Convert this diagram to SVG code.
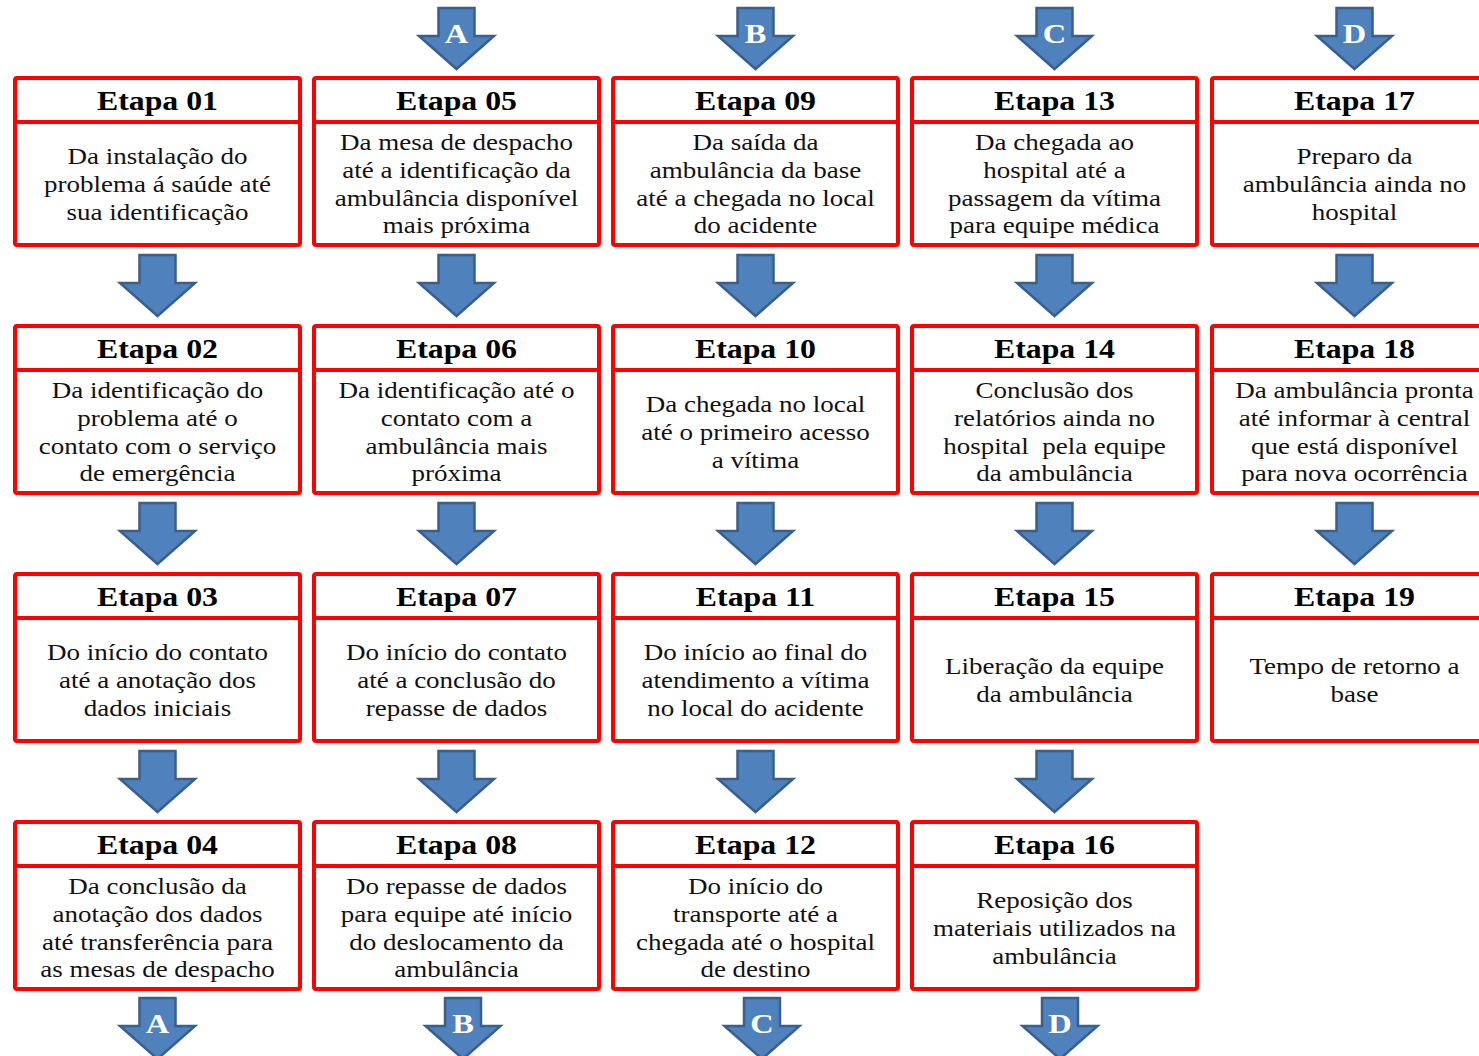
<svg xmlns="http://www.w3.org/2000/svg" width="1479" height="1056" viewBox="0 0 1479 1056">
<style>
.box{fill:#fff;stroke:#ff0000;stroke-width:4}
.hl{stroke:#ff0000;stroke-width:4}
.t{font-family:"Liberation Serif",serif;font-weight:bold;font-size:26.5px;text-anchor:middle;fill:#000}
.b{font-family:"Liberation Serif",serif;font-size:22.5px;text-anchor:middle;fill:#111}
.arr{fill:#4f81bd;stroke:#3a5f8b;stroke-width:2.5;stroke-linejoin:miter}
.lt{font-family:"Liberation Serif",serif;font-weight:bold;font-size:27px;text-anchor:middle;fill:#fff}
</style>
<defs>
<path id="ar" class="arr" d="M-18,0 H18 V28 H37.5 L0,61 L-37.5,28 H-18 Z"/>
<g id="frame">
<rect class="box" x="-142.5" y="1" width="285" height="167" rx="2"/>
<line class="hl" x1="-142.5" y1="45" x2="142.5" y2="45"/>
</g>
</defs>
<g id="connectors">
<use href="#ar" x="456.5" y="8"/><g transform="translate(456.5,0) scale(1.2,1)"><text class="lt" x="0" y="43">A</text></g>
<use href="#ar" x="755.5" y="8"/><g transform="translate(755.5,0) scale(1.2,1)"><text class="lt" x="0" y="43">B</text></g>
<use href="#ar" x="1054.5" y="8"/><g transform="translate(1054.5,0) scale(1.2,1)"><text class="lt" x="0" y="43">C</text></g>
<use href="#ar" x="1354.5" y="8"/><g transform="translate(1354.5,0) scale(1.2,1)"><text class="lt" x="0" y="43">D</text></g>
<use href="#ar" x="157.5" y="255"/><use href="#ar" x="456.5" y="255"/><use href="#ar" x="755.5" y="255"/><use href="#ar" x="1054.5" y="255"/><use href="#ar" x="1354.5" y="255"/>
<use href="#ar" x="157.5" y="503"/><use href="#ar" x="456.5" y="503"/><use href="#ar" x="755.5" y="503"/><use href="#ar" x="1054.5" y="503"/><use href="#ar" x="1354.5" y="503"/>
<use href="#ar" x="157.5" y="751"/><use href="#ar" x="456.5" y="751"/><use href="#ar" x="755.5" y="751"/><use href="#ar" x="1054.5" y="751"/>
<use href="#ar" x="157.5" y="998"/><g transform="translate(157.5,0) scale(1.2,1)"><text class="lt" x="0" y="1033">A</text></g>
<use href="#ar" x="463" y="998"/><g transform="translate(463,0) scale(1.2,1)"><text class="lt" x="0" y="1033">B</text></g>
<use href="#ar" x="762" y="998"/><g transform="translate(762,0) scale(1.2,1)"><text class="lt" x="0" y="1033">C</text></g>
<use href="#ar" x="1060" y="998"/><g transform="translate(1060,0) scale(1.2,1)"><text class="lt" x="0" y="1033">D</text></g>
</g>

<g id="etapa01" transform="translate(157.5,77)"><use href="#frame"/><g transform="scale(1.2,1)"><text class="t" y="33">Etapa 01</text><text class="b" y="87.3">Da instalação do</text><text class="b" y="115">problema á saúde até</text><text class="b" y="142.7">sua identificação</text></g></g>
<g id="etapa02" transform="translate(157.5,325)"><use href="#frame"/><g transform="scale(1.2,1)"><text class="t" y="33">Etapa 02</text><text class="b" y="73.5">Da identificação do</text><text class="b" y="101.2">problema até o</text><text class="b" y="128.8">contato com o serviço</text><text class="b" y="156.5">de emergência</text></g></g>
<g id="etapa03" transform="translate(157.5,573)"><use href="#frame"/><g transform="scale(1.2,1)"><text class="t" y="33">Etapa 03</text><text class="b" y="87.3">Do início do contato</text><text class="b" y="115">até a anotação dos</text><text class="b" y="142.7">dados iniciais</text></g></g>
<g id="etapa04" transform="translate(157.5,821)"><use href="#frame"/><g transform="scale(1.2,1)"><text class="t" y="33">Etapa 04</text><text class="b" y="73.5">Da conclusão da</text><text class="b" y="101.2">anotação dos dados</text><text class="b" y="128.8">até transferência para</text><text class="b" y="156.5">as mesas de despacho</text></g></g>

<g id="etapa05" transform="translate(456.5,77)"><use href="#frame"/><g transform="scale(1.2,1)"><text class="t" y="33">Etapa 05</text><text class="b" y="73.5">Da mesa de despacho</text><text class="b" y="101.2">até a identificação da</text><text class="b" y="128.8">ambulância disponível</text><text class="b" y="156.5">mais próxima</text></g></g>
<g id="etapa06" transform="translate(456.5,325)"><use href="#frame"/><g transform="scale(1.2,1)"><text class="t" y="33">Etapa 06</text><text class="b" y="73.5">Da identificação até o</text><text class="b" y="101.2">contato com a</text><text class="b" y="128.8">ambulância mais</text><text class="b" y="156.5">próxima</text></g></g>
<g id="etapa07" transform="translate(456.5,573)"><use href="#frame"/><g transform="scale(1.2,1)"><text class="t" y="33">Etapa 07</text><text class="b" y="87.3">Do início do contato</text><text class="b" y="115">até a conclusão do</text><text class="b" y="142.7">repasse de dados</text></g></g>
<g id="etapa08" transform="translate(456.5,821)"><use href="#frame"/><g transform="scale(1.2,1)"><text class="t" y="33">Etapa 08</text><text class="b" y="73.5">Do repasse de dados</text><text class="b" y="101.2">para equipe até início</text><text class="b" y="128.8">do deslocamento da</text><text class="b" y="156.5">ambulância</text></g></g>

<g id="etapa09" transform="translate(755.5,77)"><use href="#frame"/><g transform="scale(1.2,1)"><text class="t" y="33">Etapa 09</text><text class="b" y="73.5">Da saída da</text><text class="b" y="101.2">ambulância da base</text><text class="b" y="128.8">até a chegada no local</text><text class="b" y="156.5">do acidente</text></g></g>
<g id="etapa10" transform="translate(755.5,325)"><use href="#frame"/><g transform="scale(1.2,1)"><text class="t" y="33">Etapa 10</text><text class="b" y="87.3">Da chegada no local</text><text class="b" y="115">até o primeiro acesso</text><text class="b" y="142.7">a vítima</text></g></g>
<g id="etapa11" transform="translate(755.5,573)"><use href="#frame"/><g transform="scale(1.2,1)"><text class="t" y="33">Etapa 11</text><text class="b" y="87.3">Do início ao final do</text><text class="b" y="115">atendimento a vítima</text><text class="b" y="142.7">no local do acidente</text></g></g>
<g id="etapa12" transform="translate(755.5,821)"><use href="#frame"/><g transform="scale(1.2,1)"><text class="t" y="33">Etapa 12</text><text class="b" y="73.5">Do início do</text><text class="b" y="101.2">transporte até a</text><text class="b" y="128.8">chegada até o hospital</text><text class="b" y="156.5">de destino</text></g></g>

<g id="etapa13" transform="translate(1054.5,77)"><use href="#frame"/><g transform="scale(1.2,1)"><text class="t" y="33">Etapa 13</text><text class="b" y="73.5">Da chegada ao</text><text class="b" y="101.2">hospital até a</text><text class="b" y="128.8">passagem da vítima</text><text class="b" y="156.5">para equipe médica</text></g></g>
<g id="etapa14" transform="translate(1054.5,325)"><use href="#frame"/><g transform="scale(1.2,1)"><text class="t" y="33">Etapa 14</text><text class="b" y="73.5">Conclusão dos</text><text class="b" y="101.2">relatórios ainda no</text><text class="b" y="128.8">hospital&#160; pela equipe</text><text class="b" y="156.5">da ambulância</text></g></g>
<g id="etapa15" transform="translate(1054.5,573)"><use href="#frame"/><g transform="scale(1.2,1)"><text class="t" y="33">Etapa 15</text><text class="b" y="101.2">Liberação da equipe</text><text class="b" y="128.8">da ambulância</text></g></g>
<g id="etapa16" transform="translate(1054.5,821)"><use href="#frame"/><g transform="scale(1.2,1)"><text class="t" y="33">Etapa 16</text><text class="b" y="87.3">Reposição dos</text><text class="b" y="115">materiais utilizados na</text><text class="b" y="142.7">ambulância</text></g></g>

<g id="etapa17" transform="translate(1354.5,77)"><use href="#frame"/><g transform="scale(1.2,1)"><text class="t" y="33">Etapa 17</text><text class="b" y="87.3">Preparo da</text><text class="b" y="115">ambulância ainda no</text><text class="b" y="142.7">hospital</text></g></g>
<g id="etapa18" transform="translate(1354.5,325)"><use href="#frame"/><g transform="scale(1.2,1)"><text class="t" y="33">Etapa 18</text><text class="b" y="73.5">Da ambulância pronta</text><text class="b" y="101.2">até informar à central</text><text class="b" y="128.8">que está disponível</text><text class="b" y="156.5">para nova ocorrência</text></g></g>
<g id="etapa19" transform="translate(1354.5,573)"><use href="#frame"/><g transform="scale(1.2,1)"><text class="t" y="33">Etapa 19</text><text class="b" y="101.2">Tempo de retorno a</text><text class="b" y="128.8">base</text></g></g>
</svg>
